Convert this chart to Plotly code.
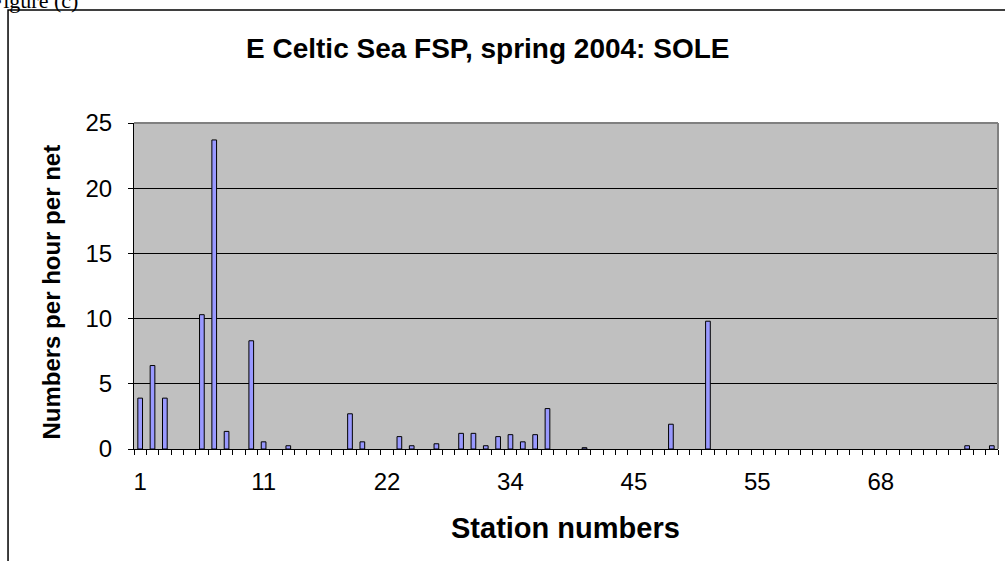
import plotly.graph_objects as go

# ------------------------------------------------
# DATA
# ------------------------------------------------
stations = [
    "1", "2", "3", "4", "5", "6", "7", "8", "9", "10",
    "11", "12", "13", "14", "15", "16", "17", "18", "19", "20",
    "22", "23", "24", "25", "26", "28", "29", "30", "31", "33",
    "34", "35", "36", "37", "38", "39", "40", "41", "42", "43",
    "45", "46", "47", "48", "49", "50", "51", "52", "53", "54",
    "55", "56", "57", "59", "60", "61", "63", "64", "65", "67",
    "68", "69", "70", "71", "72", "73", "74", "75", "76", "77",
]

numbers_per_hour = [
    3.9, 6.4, 3.9, 0, 0, 10.3, 23.7, 1.35, 0, 8.3,
    0.55, 0, 0.25, 0, 0, 0, 0, 2.7, 0.55, 0,
    0, 0.95, 0.25, 0, 0.4, 0, 1.2, 1.2, 0.25, 0.95,
    1.1, 0.55, 1.1, 3.1, 0, 0, 0.1, 0, 0, 0,
    0, 0, 0, 1.9, 0, 0, 9.8, 0, 0, 0,
    0, 0, 0, 0, 0, 0, 0, 0, 0, 0,
    0, 0, 0, 0, 0, 0, 0, 0.25, 0, 0.25,
]

labelled_stations = ["1", "11", "22", "34", "45", "55", "68"]
y_ticks = [0, 5, 10, 15, 20, 25]

FONT = "Liberation Sans, Arial, sans-serif"

# ------------------------------------------------
# FIGURE
# ------------------------------------------------
fig = go.Figure(
    go.Bar(
        x=stations,
        y=numbers_per_hour,
        marker=dict(
            color="#9999FF",
            # no outline on empty stations (Excel draws nothing there)
            line=dict(color="black",
                      width=[1 if v > 0 else 0 for v in numbers_per_hour]),
        ),
        showlegend=False,
    )
)

fig.update_layout(
    width=1005,
    height=561,
    margin=dict(l=134, r=7, t=123, b=112, autoexpand=False),
    paper_bgcolor="white",
    plot_bgcolor="#C0C0C0",
    bargap=0.62,
    font=dict(family=FONT, color="black"),
)

fig.update_xaxes(
    type="category",
    tickmode="array",
    tickvals=stations,
    ticktext=[s if s in labelled_stations else "" for s in stations],
    tickson="boundaries",
    tickangle=0,
    ticks="outside",
    ticklen=5,
    tickcolor="black",
    tickfont=dict(size=24),
    ticklabelstandoff=11,
    showgrid=False,
    showline=True,
    linecolor="black",
    linewidth=1,
    automargin=False,
)

fig.update_yaxes(
    range=[0, 25],
    tickvals=y_ticks,
    ticks="outside",
    ticklen=5,
    tickcolor="black",
    tickfont=dict(size=24),
    ticklabelstandoff=11,
    showgrid=True,
    gridcolor="black",
    gridwidth=1,
    showline=True,
    linecolor="black",
    linewidth=1,
    zeroline=False,
    automargin=False,
)

# titles
fig.add_annotation(
    text="<b>E Celtic Sea FSP, spring 2004: SOLE</b>",
    xref="paper", yref="paper", x=0.4086, y=1.23,
    xanchor="center", yanchor="middle", showarrow=False,
    font=dict(size=28),
)
fig.add_annotation(
    text="<b>Numbers per hour per net</b>",
    xref="paper", yref="paper", x=-0.096, y=0.48,
    xanchor="center", yanchor="middle", showarrow=False,
    textangle=-90, font=dict(size=24),
)
fig.add_annotation(
    text="<b>Station numbers</b>",
    xref="paper", yref="paper", x=0.4998, y=-0.243,
    xanchor="center", yanchor="middle", showarrow=False,
    font=dict(size=29),
)

# fragment of the document caption above the chart
fig.add_annotation(
    text="Figure (c)",
    xref="paper", yref="paper", x=-0.063, y=1.377,
    xanchor="right", yanchor="middle", showarrow=False,
    font=dict(family="Liberation Serif, Times New Roman, serif", size=22),
)

# plot area top / right border (grey) and outer chart frame
fig.add_shape(type="line", xref="paper", yref="paper",
              x0=0, x1=1, y0=1, y1=1, line=dict(color="#808080", width=2))
fig.add_shape(type="line", xref="paper", yref="paper",
              x0=1, x1=1, y0=0, y1=1, line=dict(color="#808080", width=2))
fig.add_shape(type="path", xref="paper", yref="paper",
              path="M -0.1458,-0.40 L -0.1458,1.3466 L 1.05,1.3466",
              line=dict(color="black", width=1.5))

fig.write_html(
    "out.html",
    config={"displayModeBar": False},
    post_script="document.body.style.margin='0';",
)
